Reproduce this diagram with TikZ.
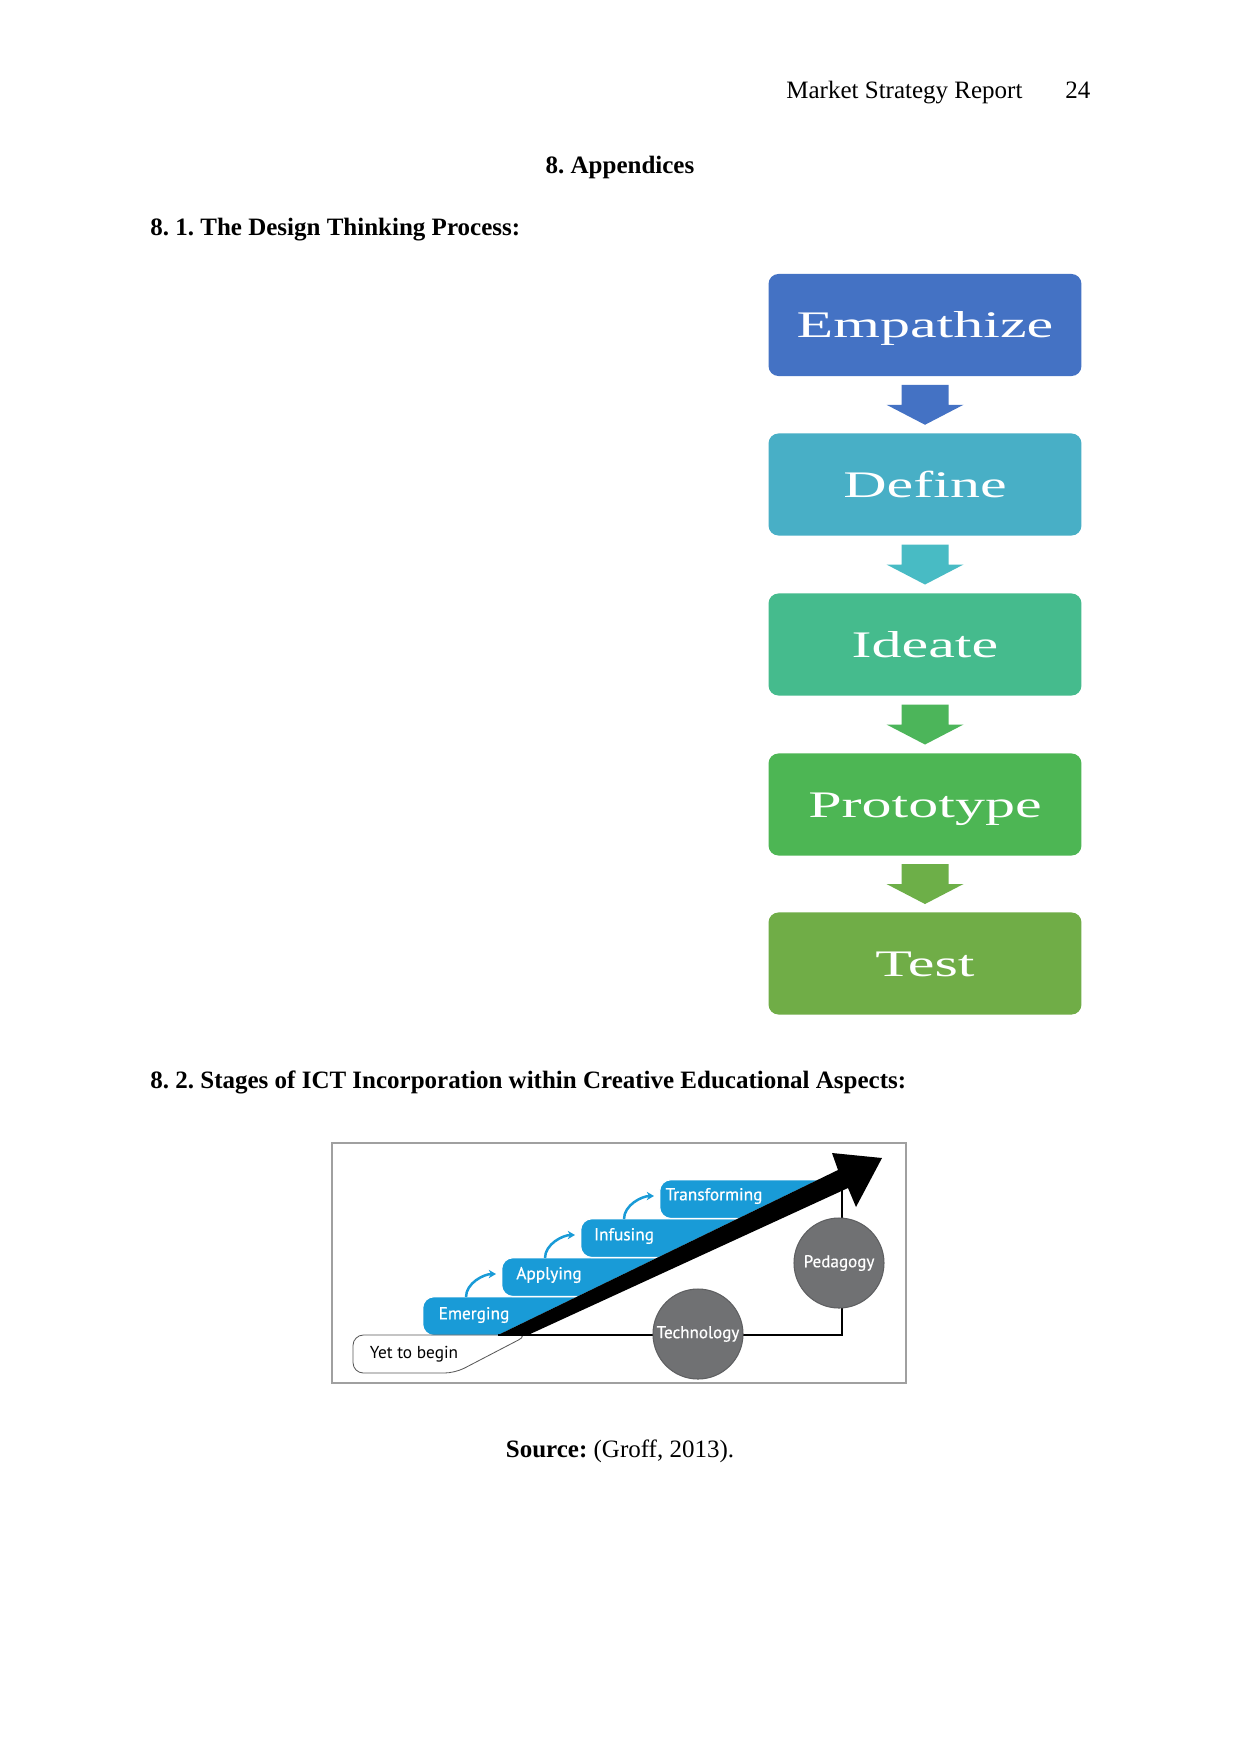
\documentclass[tikz,border=0pt]{standalone}
\usepackage{fontspec}
\setmainfont{Liberation Serif}
\newfontfamily\boxfont[FakeStretch=1.6]{Liberation Serif}
\newfontfamily\ictfont{PT Sans}
\newfontfamily\ictbold[FakeBold=0.6]{PT Sans}
\usetikzlibrary{arrows.meta,calc}
\frenchspacing
\definecolor{cEmp}{HTML}{4472C4}
\definecolor{cDef}{HTML}{48AFC6}
\definecolor{cIde}{HTML}{45BB8D}
\definecolor{cPro}{HTML}{4DB654}
\definecolor{cTes}{HTML}{70AD47}
\definecolor{aOne}{HTML}{4472C4}
\definecolor{aTwo}{HTML}{48BBC4}
\definecolor{aThr}{HTML}{4CB55A}
\definecolor{aFou}{HTML}{6DAF48}
\definecolor{ictblue}{HTML}{199BD7}
\definecolor{ictgray}{HTML}{707173}
\definecolor{ictedge}{HTML}{5E5F61}
\definecolor{framegray}{HTML}{A0A0A0}
\tikzset{
  flowbox/.style={rounded corners=4.8pt, minimum width=150.2pt, minimum height=49pt,
    text=white, font=\boxfont\fontsize{18}{20}\selectfont, inner sep=0pt,
    text height=12pt, text depth=0pt},
  txt/.style={font=\fontsize{12}{14}\selectfont, inner sep=0pt},
  steplabel/.style={font=\ictbold\fontsize{8.3}{9}\selectfont, text=white, inner sep=0pt},
  plainlabel/.style={font=\ictfont\fontsize{8.3}{9}\selectfont, text=black, inner sep=0pt},
  stepfill/.style={fill=ictblue, draw=white, line width=0.6pt, rounded corners=5.5pt,
    anchor=north west, minimum height=18.7pt, minimum width=200pt, inner sep=0pt},
  ringnode/.style={circle, fill=ictgray, draw=ictedge, line width=0.5pt, minimum size=43.2pt,
    inner sep=0pt, text=white, font=\ictbold\fontsize{8.2}{9}\selectfont},
  curvarrow/.style={draw=ictblue, line width=1.2pt, -{Stealth[length=3.5pt,width=4pt]}},
}
\begin{document}
\begin{tikzpicture}[x=0.48pt,y=-0.48pt]
\useasboundingbox[fill=white] (0,0) rectangle (1241,1754);

% header and headings
\node[txt, anchor=base west] (hdr) at (786,98) {Market Strategy Report};
\node[txt, anchor=base west] (pg) at (1065,98) {24};
\node[txt, anchor=base, font=\bfseries\fontsize{12}{14}\selectfont] (appx) at (620,173) {8. Appendices};
\node[txt, anchor=base west, font=\bfseries\fontsize{12}{14}\selectfont] (h1) at (150,235) {8. 1. The Design Thinking Process:};
\node[txt, anchor=base west, font=\bfseries\fontsize{12}{14}\selectfont] (h2) at (150,1088) {8. 2. Stages of ICT Incorporation within Creative Educational Aspects:};
\node[txt, anchor=base] (src) at (620,1457) {\textbf{Source:} (Groff, 2013).};

% design thinking flow
\node[flowbox, fill=cEmp] (emp) at (925,325) {Empathize};
\node[flowbox, fill=cDef] (def) at (925,484.5) {Define};
\node[flowbox, fill=cIde] (ide) at (925,644.5) {Ideate};
\node[flowbox, fill=cPro] (pro) at (925,804.5) {Prototype};
\node[flowbox, fill=cTes] (tes) at (925,963.5) {Test};

\foreach \u/\v/\c in {emp/def/aOne, def/ide/aTwo, ide/pro/aThr, pro/tes/aFou}{
  \path (\u.south) -- (\v.north) coordinate[midway] (mid-\u);
  \fill[\c] ($(mid-\u)+(-23.5,-20)$) -- ++(47,0) -- ++(0,20) -- ++(15,0)
     -- ++(-38.5,20) -- ++(-38.5,-20) -- ++(15,0) -- cycle;
}

% ICT figure
\draw[framegray, line width=0.7pt] (332,1143) rectangle (906,1383);

\begin{scope}
  \clip (332,1100) -- (332,1335) -- (498,1335) -- (906,1137) -- (906,1100) -- cycle;
  \node[stepfill] (emf) at (422,1296) {};
  \node[stepfill] (apf) at (501,1257) {};
  \node[stepfill] (inf) at (580,1218) {};
  \node[stepfill] (trf) at (659,1179) {};
\end{scope}

\node[steplabel] (em) at (474,1315) {Emerging};
\node[steplabel] (ap) at (549,1275) {Applying};
\node[steplabel] (in) at (624,1236) {Infusing};
\node[steplabel] (tr) at (714,1196) {Transforming};

\draw[curvarrow] ($(emf.north west)+(44,1)$) .. controls +(0,-14) and +(-12,0) .. ($(apf.north west)+(-5,17)$);
\draw[curvarrow] ($(apf.north west)+(44,1)$) .. controls +(0,-14) and +(-12,0) .. ($(inf.north west)+(-5,17)$);
\draw[curvarrow] ($(inf.north west)+(44,1)$) .. controls +(0,-14) and +(-12,0) .. ($(trf.north west)+(-5,17)$);

% yet to begin
\draw[gray!70!black, line width=0.4pt, rounded corners=5pt] (528,1335) -- (353,1335) -- (353,1373) -- (455,1373) -- cycle;
\node[plainlabel] (ytb) at (414,1354) {Yet to begin};

% axis line
\coordinate (base) at (498,1335);
\coordinate (corner) at (842,1335);
\coordinate (top) at (842,1180);
\draw[black, line width=1.2pt] (base) -- (corner) -- (top);

\node[ringnode] (tech) at (698,1334) {Technology};
\node[ringnode] (peda) at (839,1263) {Pedagogy};

% big arrow
\fill[black] (base) -- (838,1170) -- (832,1153) -- (882,1158) -- (856,1207) -- (848,1188) -- (528,1335) -- cycle;
\end{tikzpicture}
\end{document}
